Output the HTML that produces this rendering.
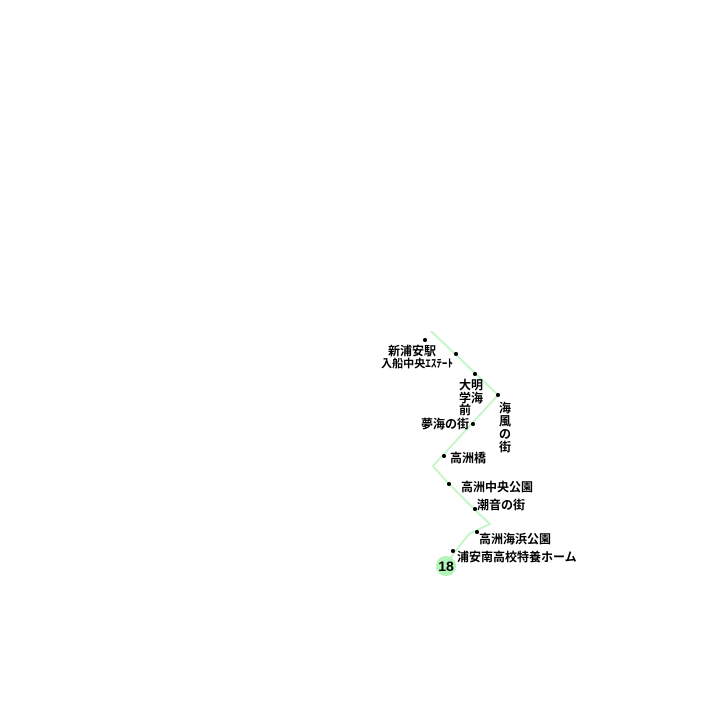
<!DOCTYPE html>
<html><head><meta charset="utf-8"><style>
html,body{margin:0;padding:0;background:#fff;}
svg text{font-family:"Liberation Sans","Noto Sans CJK JP",sans-serif;font-size:12px;font-weight:bold;fill:#000;}
</style></head><body>
<svg width="701" height="721" xmlns="http://www.w3.org/2000/svg">
<polyline points="431,331 498,395 433,466 448,483 475,510 490,524 475,531 469,534 454,553 447,564" fill="none" stroke="#c4f5c8" stroke-width="2"/>
<g fill="#000">
<circle cx="425" cy="340" r="2"/><circle cx="456" cy="354" r="2"/><circle cx="475" cy="374" r="2"/>
<circle cx="498" cy="395" r="2"/><circle cx="473" cy="424" r="2"/><circle cx="444" cy="456" r="2"/>
<circle cx="449" cy="484" r="2"/><circle cx="475" cy="509" r="2"/><circle cx="477" cy="532" r="2"/>
<circle cx="453" cy="551" r="2"/>
</g>
<text x="388" y="355">新浦安駅</text>
<text x="381" y="367" style="font-size:11px" textLength="72" lengthAdjust="spacingAndGlyphs">入船中央ｴｽﾃｰﾄ</text>
<text x="459" y="389">大明</text>
<text x="459" y="402">学海</text>
<text x="459" y="414">前</text>
<text x="499" y="412">海</text>
<text x="499" y="425">風</text>
<text x="499" y="438">の</text>
<text x="499" y="451">街</text>
<text x="421" y="428">夢海の街</text>
<text x="450" y="462">高洲橋</text>
<text x="461" y="491">高洲中央公園</text>
<text x="477" y="509">潮音の街</text>
<text x="479" y="543">高洲海浜公園</text>
<text x="457" y="561">浦安南高校特養ホーム</text>
<circle cx="446" cy="566" r="10" fill="#b3f5b9"/>
<text x="446" y="571" text-anchor="middle" style="font-size:14px;font-weight:bold">18</text>
</svg>
</body></html>
